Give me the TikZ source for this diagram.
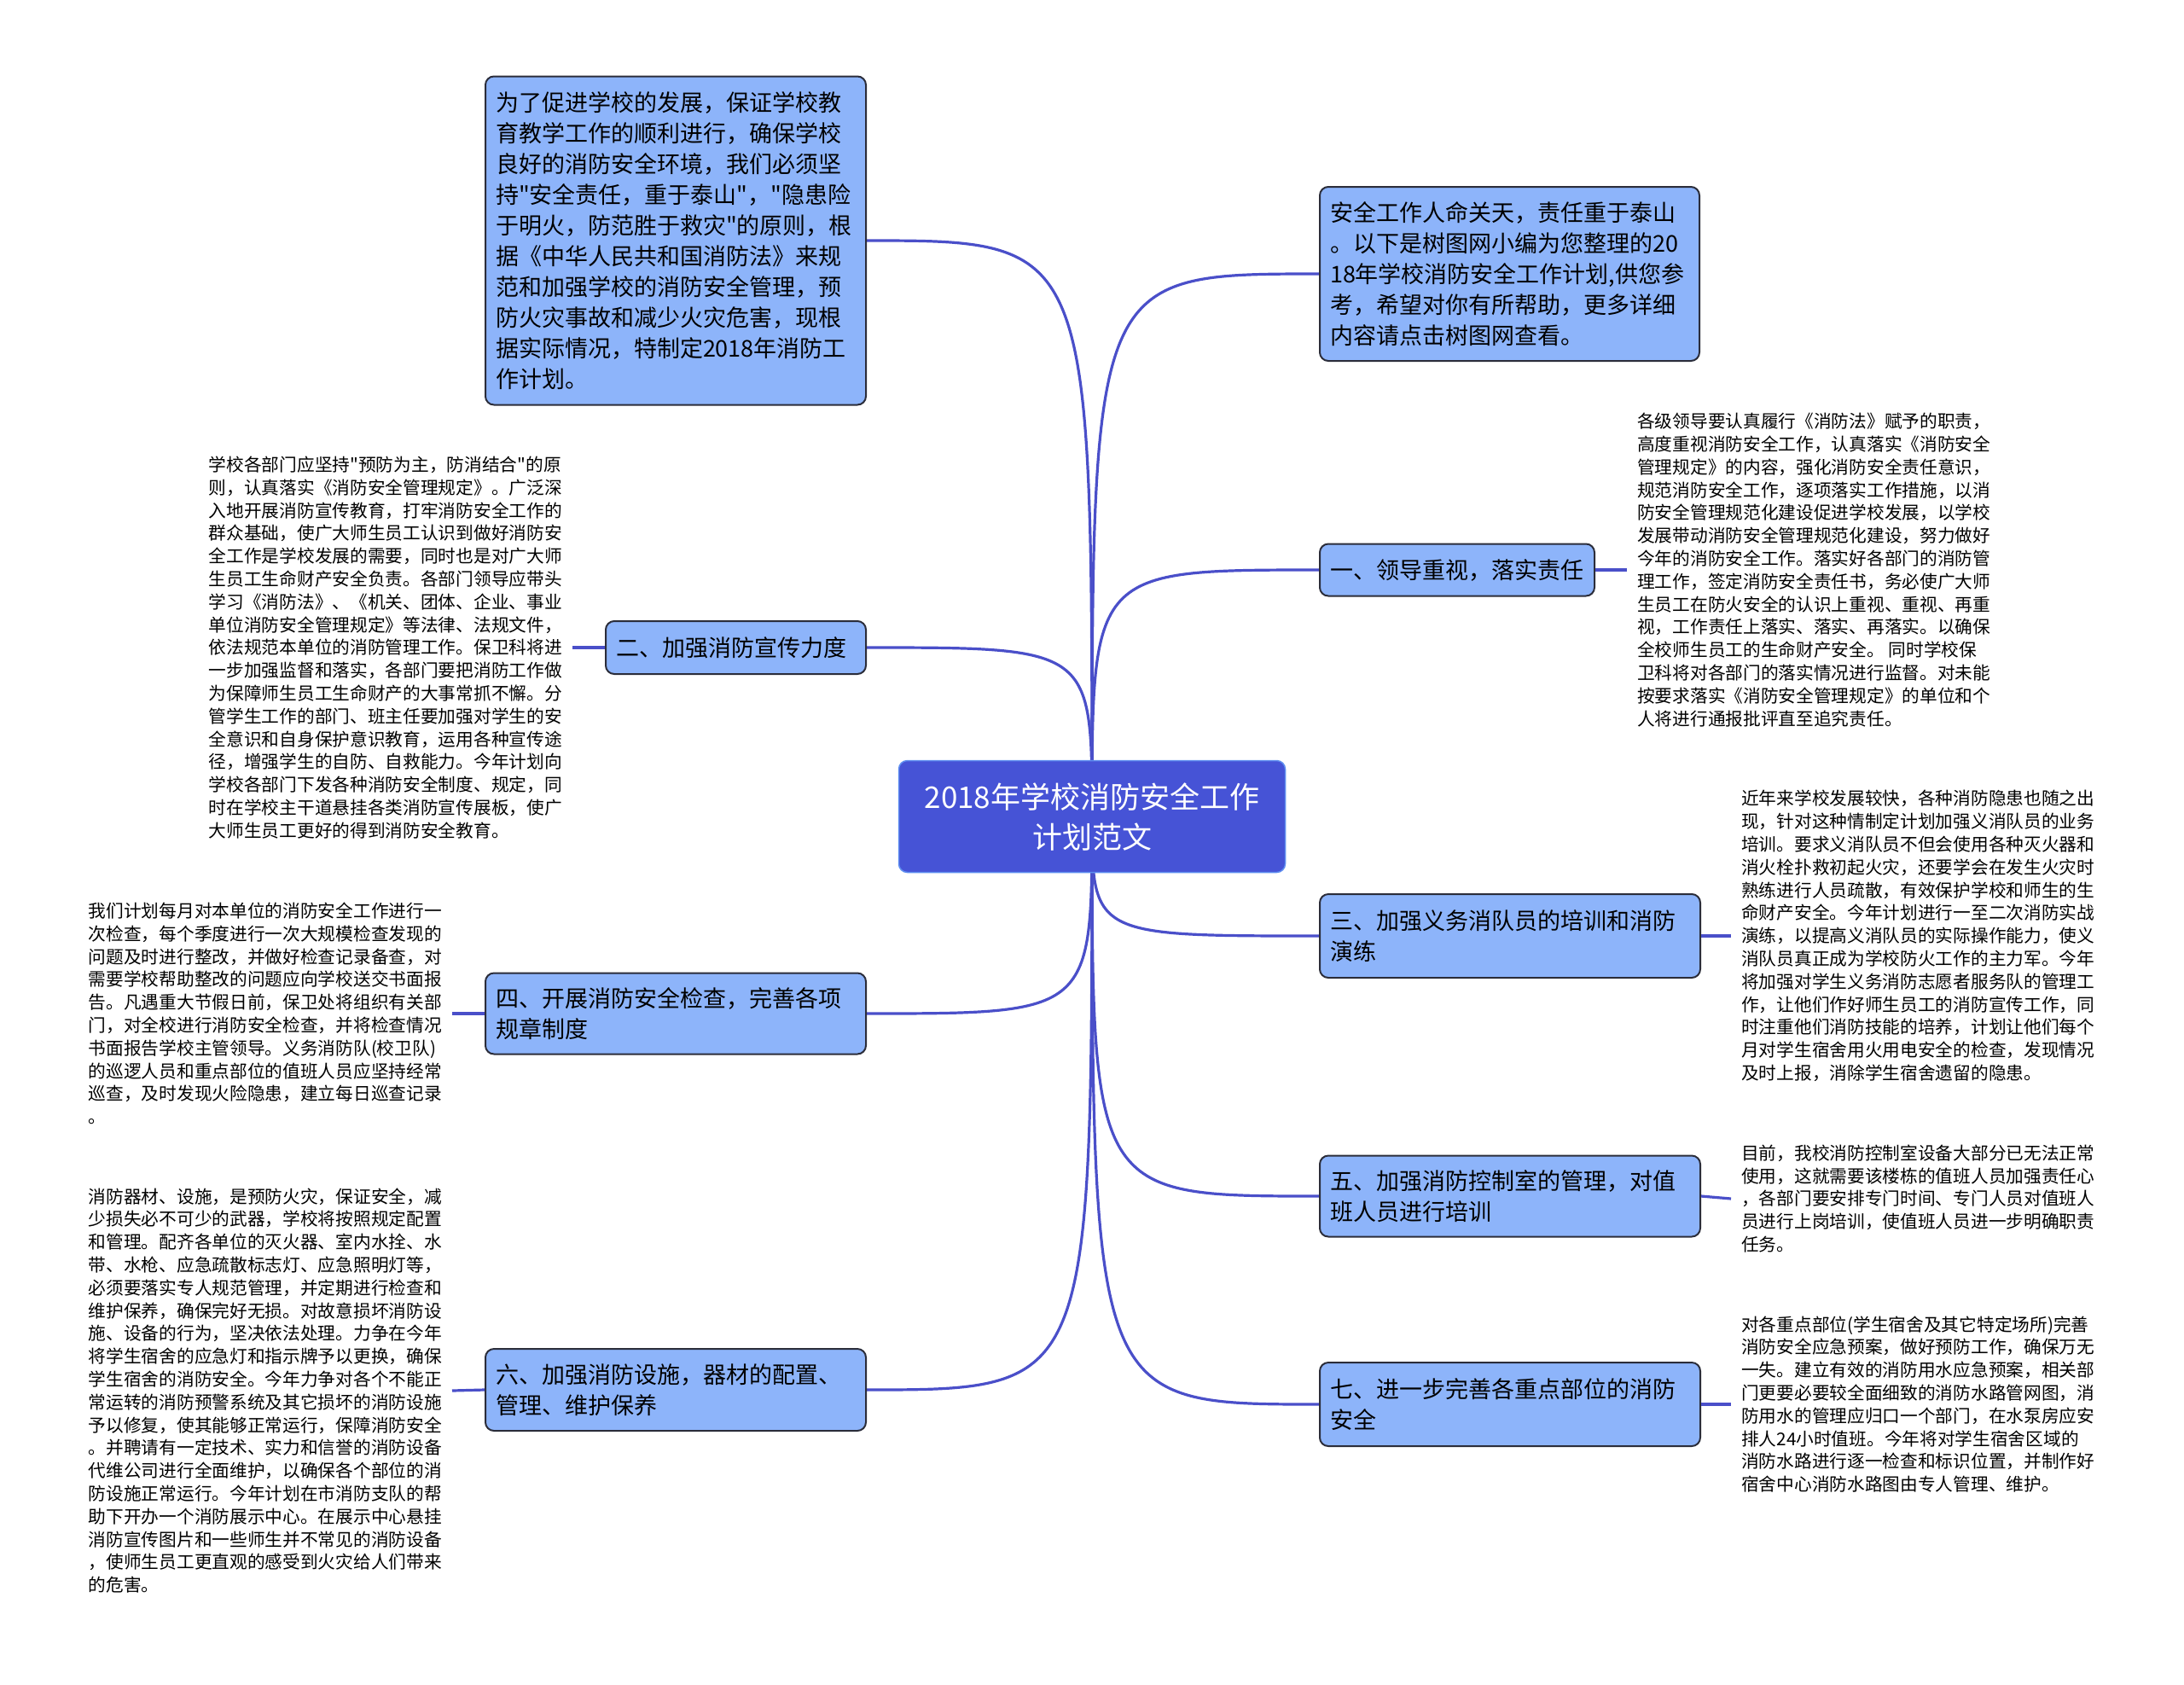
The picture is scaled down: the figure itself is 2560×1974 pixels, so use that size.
\documentclass[tikz,border=0pt]{standalone}
\usepackage{fontspec}
\setmainfont[Ligatures=TeXOff]{Noto Sans CJK SC}
\usetikzlibrary{backgrounds}
\definecolor{rootfill}{HTML}{4653D6}
\definecolor{rootline}{HTML}{5E8EF0}
\definecolor{boxfill}{HTML}{8DB4FA}
\definecolor{boxline}{HTML}{2B2D3A}
\definecolor{linkblue}{HTML}{4A4FC9}

\begin{document}
\begin{tikzpicture}[x=1pt, y=-1pt,
    root/.style={fill=rootfill, draw=rootline, line width=1.5pt, rounded corners=10pt, text=white, align=center,
      minimum width=453pt, minimum height=131pt, font=\fontsize{35}{47}\selectfont},
    box/.style={fill=boxfill, draw=boxline, line width=2pt, rounded corners=10pt, align=left, anchor=west,
      inner xsep=12pt, font=\fontsize{27}{36}\selectfont},
    detail/.style={align=left, inner xsep=12pt, inner ysep=0pt, font=\fontsize{20.7}{26.8}\selectfont},
    link/.style={draw=linkblue, line width=3.2pt}]
        \useasboundingbox (0,0) rectangle (2560,1974);
        % Nodes
        \node[root] (root) at (1280, 957) {2018年学校消防安全工作\\计划范文};

        \node[box, text width=422pt, minimum height=385pt] (intro) at (568, 282) {为了促进学校的发展，保证学校教\\育教学工作的顺利进行，确保学校\\良好的消防安全环境，我们必须坚\\持"安全责任，重于泰山"，"隐患险\\于明火，防范胜于救灾"的原则，根\\据《中华人民共和国消防法》来规\\范和加强学校的消防安全管理，预\\防火灾事故和减少火灾危害，现根\\据实际情况，特制定2018年消防工\\作计划。};
        \node[box, text width=421pt, minimum height=204pt] (summary) at (1546, 321) {安全工作人命关天，责任重于泰山\\。以下是树图网小编为您整理的20\\18年学校消防安全工作计划,供您参\\考，希望对你有所帮助，更多详细\\内容请点击树图网查看。};
        \node[box, text width=298pt, minimum height=61pt] (one) at (1546, 668) {一、领导重视，落实责任};
        \node[box, text width=281pt, minimum height=62pt] (two) at (709, 759) {二、加强消防宣传力度};
        \node[box, text width=422pt, minimum height=98pt] (three) at (1546, 1097) {三、加强义务消队员的培训和消防\\演练};
        \node[box, text width=422pt, minimum height=95pt] (four) at (568, 1188) {四、开展消防安全检查，完善各项\\规章制度};
        \node[box, text width=422pt, minimum height=95pt] (five) at (1546, 1402) {五、加强消防控制室的管理，对值\\班人员进行培训};
        \node[box, text width=422pt, minimum height=96pt] (six) at (568, 1629) {六、加强消防设施，器材的配置、\\管理、维护保养};
        \node[box, text width=422pt, minimum height=98pt] (seven) at (1546, 1646) {七、进一步完善各重点部位的消防\\安全};

        % Detail texts
        \node[detail, anchor=west] (oneText) at (1907, 668) {各级领导要认真履行《消防法》赋予的职责，\\高度重视消防安全工作，认真落实《消防安全\\管理规定》的内容，强化消防安全责任意识，\\规范消防安全工作，逐项落实工作措施，以消\\防安全管理规范化建设促进学校发展，以学校\\发展带动消防安全管理规范化建设，努力做好\\今年的消防安全工作。落实好各部门的消防管\\理工作，签定消防安全责任书，务必使广大师\\生员工在防火安全的认识上重视、重视、再重\\视，工作责任上落实、落实、再落实。以确保\\全校师生员工的生命财产安全。 同时学校保\\卫科将对各部门的落实情况进行监督。对未能\\按要求落实《消防安全管理规定》的单位和个\\人将进行通报批评直至追究责任。};
        \node[detail, anchor=east] (twoText) at (671, 759) {学校各部门应坚持"预防为主，防消结合"的原\\则，认真落实《消防安全管理规定》。广泛深\\入地开展消防宣传教育，打牢消防安全工作的\\群众基础，使广大师生员工认识到做好消防安\\全工作是学校发展的需要，同时也是对广大师\\生员工生命财产安全负责。各部门领导应带头\\学习《消防法》、《机关、团体、企业、事业\\单位消防安全管理规定》等法律、法规文件，\\依法规范本单位的消防管理工作。保卫科将进\\一步加强监督和落实，各部门要把消防工作做\\为保障师生员工生命财产的大事常抓不懈。分\\管学生工作的部门、班主任要加强对学生的安\\全意识和自身保护意识教育，运用各种宣传途\\径，增强学生的自防、自救能力。今年计划向\\学校各部门下发各种消防安全制度、规定，同\\时在学校主干道悬挂各类消防宣传展板，使广\\大师生员工更好的得到消防安全教育。};
        \node[detail, anchor=west] (threeText) at (2029, 1097) {近年来学校发展较快，各种消防隐患也随之出\\现，针对这种情制定计划加强义消队员的业务\\培训。要求义消队员不但会使用各种灭火器和\\消火栓扑救初起火灾，还要学会在发生火灾时\\熟练进行人员疏散，有效保护学校和师生的生\\命财产安全。今年计划进行一至二次消防实战\\演练，以提高义消队员的实际操作能力，使义\\消队员真正成为学校防火工作的主力军。今年\\将加强对学生义务消防志愿者服务队的管理工\\作，让他们作好师生员工的消防宣传工作，同\\时注重他们消防技能的培养，计划让他们每个\\月对学生宿舍用火用电安全的检查，发现情况\\及时上报，消除学生宿舍遗留的隐患。};
        \node[detail, anchor=east] (fourText) at (530, 1188) {我们计划每月对本单位的消防安全工作进行一\\次检查，每个季度进行一次大规模检查发现的\\问题及时进行整改，并做好检查记录备查，对\\需要学校帮助整改的问题应向学校送交书面报\\告。凡遇重大节假日前，保卫处将组织有关部\\门，对全校进行消防安全检查，并将检查情况\\书面报告学校主管领导。义务消防队(校卫队)\\的巡逻人员和重点部位的值班人员应坚持经常\\巡查，及时发现火险隐患，建立每日巡查记录\\。};
        \node[detail, anchor=west] (fiveText) at (2029, 1405) {目前，我校消防控制室设备大部分已无法正常\\使用，这就需要该楼栋的值班人员加强责任心\\，各部门要安排专门时间、专门人员对值班人\\员进行上岗培训，使值班人员进一步明确职责\\任务。};
        \node[detail, anchor=east] (sixText) at (530, 1630) {消防器材、设施，是预防火灾，保证安全，减\\少损失必不可少的武器，学校将按照规定配置\\和管理。配齐各单位的灭火器、室内水拴、水\\带、水枪、应急疏散标志灯、应急照明灯等，\\必须要落实专人规范管理，并定期进行检查和\\维护保养，确保完好无损。对故意损坏消防设\\施、设备的行为，坚决依法处理。力争在今年\\将学生宿舍的应急灯和指示牌予以更换，确保\\学生宿舍的消防安全。今年力争对各个不能正\\常运转的消防预警系统及其它损坏的消防设施\\予以修复，使其能够正常运行，保障消防安全\\。并聘请有一定技术、实力和信誉的消防设备\\代维公司进行全面维护，以确保各个部位的消\\防设施正常运行。今年计划在市消防支队的帮\\助下开办一个消防展示中心。在展示中心悬挂\\消防宣传图片和一些师生并不常见的消防设备\\，使师生员工更直观的感受到火灾给人们带来\\的危害。};
        \node[detail, anchor=west] (sevenText) at (2029, 1646) {对各重点部位(学生宿舍及其它特定场所)完善\\消防安全应急预案，做好预防工作，确保万无\\一失。建立有效的消防用水应急预案，相关部\\门更要必要较全面细致的消防水路管网图，消\\防用水的管理应归口一个部门，在水泵房应安\\排人24小时值班。今年将对学生宿舍区域的\\消防水路进行逐一检查和标识位置，并制作好\\宿舍中心消防水路图由专人管理、维护。};

        % Branches
        \begin{scope}[on background layer]
        \foreach \target/\side in {intro/east, summary/west, one/west, two/east, three/west, four/east, five/west, six/east, seven/west}
            \draw[link] (root.center) .. controls (root.center |- \target.\side) .. (\target.\side);
        \end{scope}
        \draw[link] (one.east) -- (oneText.west);
        \draw[link] (two.west) -- (twoText.east);
        \draw[link] (three.east) -- (threeText.west);
        \draw[link] (four.west) -- (fourText.east);
        \draw[link] (five.east) -- (fiveText.west);
        \draw[link] (six.west) -- (sixText.east);
        \draw[link] (seven.east) -- (sevenText.west);
    \end{tikzpicture}
\end{document}
